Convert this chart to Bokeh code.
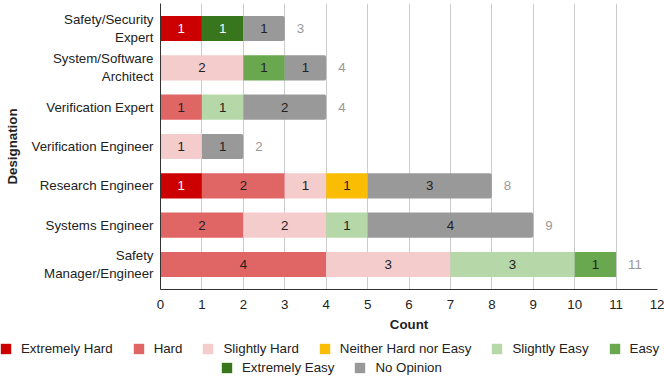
import numpy as np
from bokeh.plotting import figure
from bokeh.layouts import column
from bokeh.models import ColumnDataSource, FixedTicker, Legend, LegendItem, Range1d
from bokeh.core.properties import value
from bokeh.embed import file_html
from bokeh.resources import INLINE

# ---- data (bottom to top) ----
designations = [["Safety", "Manager/Engineer"], ["Systems Engineer"], ["Research Engineer"],
                ["Verification Engineer"], ["Verification Expert"],
                ["System/Software", "Architect"], ["Safety/Security", "Expert"]]
series_names = ["Extremely Hard", "Hard", "Slightly Hard", "Neither Hard nor Easy",
                "Slightly Easy", "Easy", "Extremely Easy", "No Opinion"]
extremely_hard = [0, 0, 1, 0, 0, 0, 1]
hard = [4, 2, 2, 0, 1, 0, 0]
slightly_hard = [3, 2, 1, 1, 0, 2, 0]
neither = [0, 0, 1, 0, 0, 0, 0]
slightly_easy = [3, 1, 0, 0, 1, 0, 0]
easy = [1, 0, 0, 0, 0, 1, 0]
extremely_easy = [0, 0, 0, 0, 0, 0, 1]
no_opinion = [0, 4, 3, 1, 2, 1, 1]
x_ticks = list(range(0, 13))

colors = ["#cc0000", "#e06666", "#f4cccc", "#fbbc04", "#b6d7a8", "#6aa84f", "#38761d", "#999999"]
label_colors = ["#ffffff", "#222222", "#222222", "#222222", "#222222", "#222222", "#ffffff", "#222222"]

all_series = [extremely_hard, hard, slightly_hard, neither, slightly_easy, easy, extremely_easy, no_opinion]

FONT = "Liberation Sans"
FS = "13.3px"

# Liberation Sans advance widths (per 1000 em) for right-aligning two-line tick labels
_W = dict(zip("SafetyMngr/EpxiAchsmSwoulVRdbIn ",
              [667, 556, 278, 556, 278, 500, 833, 556, 556, 333, 278, 667, 556, 500, 222,
               667, 500, 556, 500, 833, 667, 722, 556, 556, 222, 667, 722, 556, 556, 278, 556, 278]))


def _w(s):
    return sum(_W.get(c, 556) for c in s)


def tick_label(lines):
    if len(lines) == 1:
        return lines[0]
    widest = max(_w(l) for l in lines)
    out = []
    for l in lines:
        n = int(round((widest - _w(l)) / 278))
        out.append(("\u200b" + "\u00a0" * n + l) if n else l)
    return "\n".join(out)


p = figure(width=664, height=335, output_backend="svg", toolbar_location=None,
           x_range=Range1d(0, 12), y_range=Range1d(-0.636, 6.636),
           min_border_left=160, min_border_right=7, min_border_top=3, min_border_bottom=46)
p.frame_align = False
p.outline_line_color = None
p.background_fill_color = "white"
p.border_fill_color = "white"

ys = np.arange(len(designations))
cum = np.zeros(len(designations))
sources = []
for name, vals, col, lcol in zip(series_names, all_series, colors, label_colors):
    v = np.array(vals, dtype=float)
    mask = v > 0
    left = cum[mask]
    right = (cum + v)[mask]
    src = ColumnDataSource(dict(y=ys[mask], left=left, right=right))
    sources.append(src)
    kw = {}
    if name == "No Opinion":
        kw["border_radius"] = (0, 2, 2, 0)
    p.hbar(y="y", left="left", right="right", height=0.64, source=src,
           fill_color=col, line_color=None, **kw)
    lsrc = ColumnDataSource(dict(x=(left + right) / 2, y=ys[mask], t=[str(int(a)) for a in v[mask]]))
    p.text(x="x", y="y", text="t", source=lsrc, text_align="center", text_baseline="middle",
           text_font=value(FONT), text_font_size=FS, text_color=lcol)
    cum = cum + v

tsrc = ColumnDataSource(dict(x=cum, y=ys, t=[str(int(a)) for a in cum]))
p.text(x="x", y="y", text="t", source=tsrc, x_offset=12, text_align="left", text_baseline="middle",
       text_font=value(FONT), text_font_size=FS, text_color="#999999")

# axes
p.xaxis.ticker = FixedTicker(ticks=x_ticks)
p.xaxis.axis_label = "Count"
p.yaxis.ticker = FixedTicker(ticks=list(ys))
p.yaxis.major_label_overrides = {int(i): tick_label(d) for i, d in zip(ys, designations)}
p.yaxis.axis_label = "Designation"
for ax in (p.xaxis[0], p.yaxis[0]):
    ax.major_tick_out = 0
    ax.major_tick_in = 0
    ax.minor_tick_out = 0
    ax.minor_tick_in = 0
    ax.axis_line_color = "#333333"
    ax.major_label_text_font = FONT
    ax.major_label_text_font_size = FS
    ax.major_label_text_color = "#222222"
    ax.axis_label_text_font = FONT
    ax.axis_label_text_font_size = FS
    ax.axis_label_text_font_style = "bold"
    ax.axis_label_text_color = "#222222"
p.xaxis.major_label_standoff = 10
p.xaxis.axis_label_standoff = 5
p.yaxis.major_label_standoff = 7
p.yaxis.axis_label_standoff = 9

p.xgrid.grid_line_color = "#cccccc"
p.ygrid.grid_line_color = None

# ---- legend strip (shares the bar sources; its ranges keep the bars out of view) ----
lf = figure(width=664, height=41, output_backend="svg", toolbar_location=None,
            x_axis_type=None, y_axis_type=None, x_range=Range1d(100, 101), y_range=Range1d(100, 101),
            min_border_left=0, min_border_right=0, min_border_top=0, min_border_bottom=0)
lf.frame_align = False
lf.outline_line_color = None
lf.xgrid.visible = False
lf.ygrid.visible = False
legend_renderers = []
for src, col in zip(sources, colors):
    r = lf.hbar(y="y", left="left", right="right", height=0.64, source=src,
                fill_color=col, line_color=None)
    legend_renderers.append(r)

items = [LegendItem(label=n, renderers=[r]) for n, r in zip(series_names, legend_renderers)]
common = dict(orientation="horizontal", padding=0, margin=0, glyph_width=13, glyph_height=13,
              label_standoff=9, label_height=13, label_text_font=FONT, label_text_font_size=FS,
              label_text_color="#222222", border_line_color=None, background_fill_alpha=0)
leg1 = Legend(items=items[:6], location=(-1, 20), spacing=19, **common)
leg2 = Legend(items=items[6:], location=(220, 1), spacing=19, **common)
lf.add_layout(leg1, "center")
lf.add_layout(leg2, "center")

layout = column(p, lf, spacing=0)
open("out.html", "w").write(file_html(layout, INLINE))
